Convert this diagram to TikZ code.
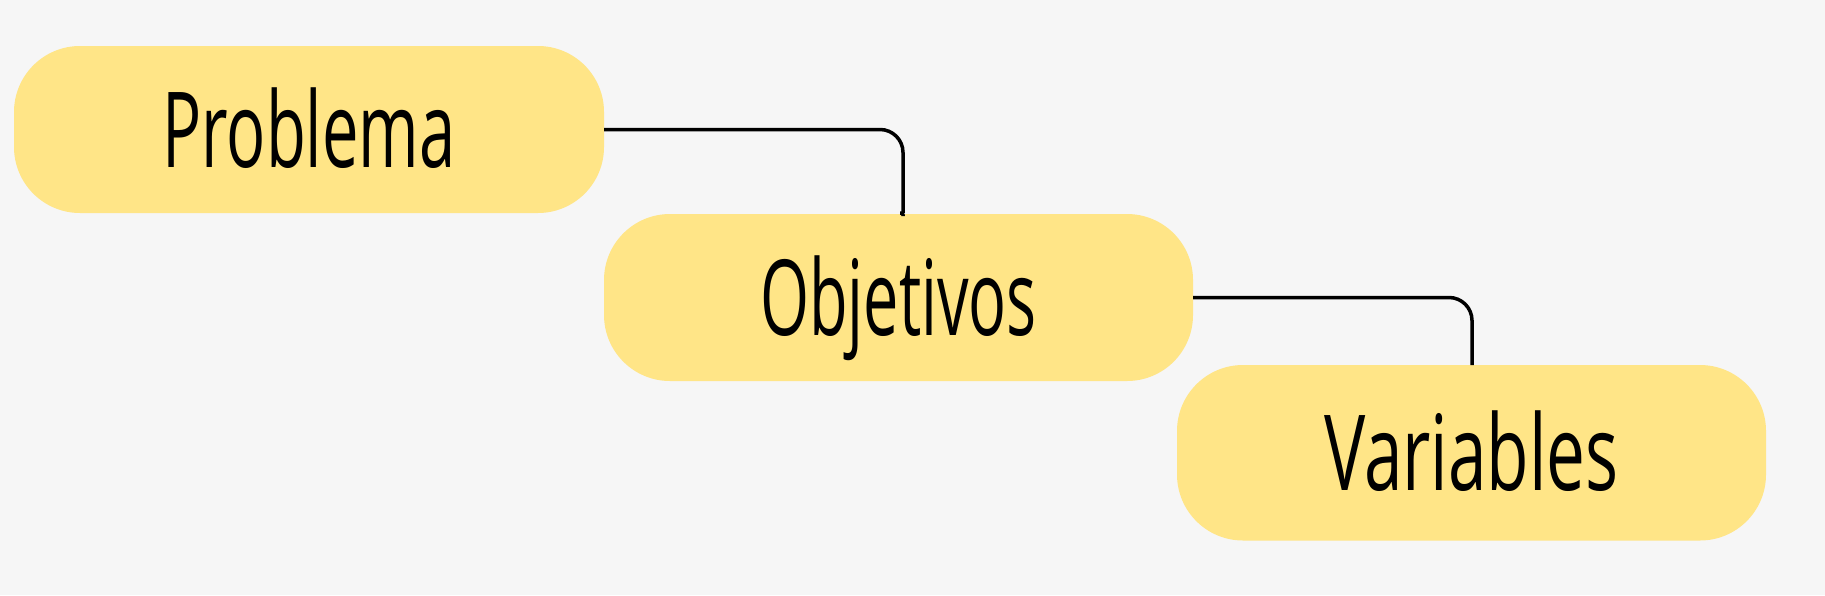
\documentclass[tikz,border=0pt]{standalone}
\usepackage{graphicx}
\usepackage{fontspec}
\newfontfamily\hand{Open Sans}
\definecolor{bg}{HTML}{F6F6F6}
\definecolor{boxfill}{HTML}{FFE587}
\begin{document}
\begin{tikzpicture}[x=1pt,y=-1pt,
  card/.style={fill=boxfill, draw=none, rounded corners=66pt, inner sep=0pt,
    minimum width=589pt, minimum height=167pt,
    font=\hand\fontsize{105}{110}\selectfont, text height=75pt, text depth=0pt},
  conn/.style={draw=black, line width=3.5pt, rounded corners=23pt}]
\fill[bg] (0,0) rectangle (1825,595);
\useasboundingbox (0,0) rectangle (1825,595);
\node[card, minimum width=590pt] (p) at (309,129.5) {\scalebox{0.62}[1]{Problema}};
\node[card] (o) at (898.5,297.5) {\scalebox{0.6}[1]{Objetivos}};
\node[card, minimum height=175.5pt] (v) at (1471.5,452.75) {\scalebox{0.66}[1]{Variables}};
\coordinate (c1) at (903,213);
\coordinate (c2) at (1472,365);
\draw[conn] (p.east) -| (c1);
\draw[conn, rounded corners=2pt] ([yshift=-3pt]c1) -- (c1) -- ++(-3,0);
\draw[conn] (o.east) -| (c2);
\end{tikzpicture}
\end{document}
